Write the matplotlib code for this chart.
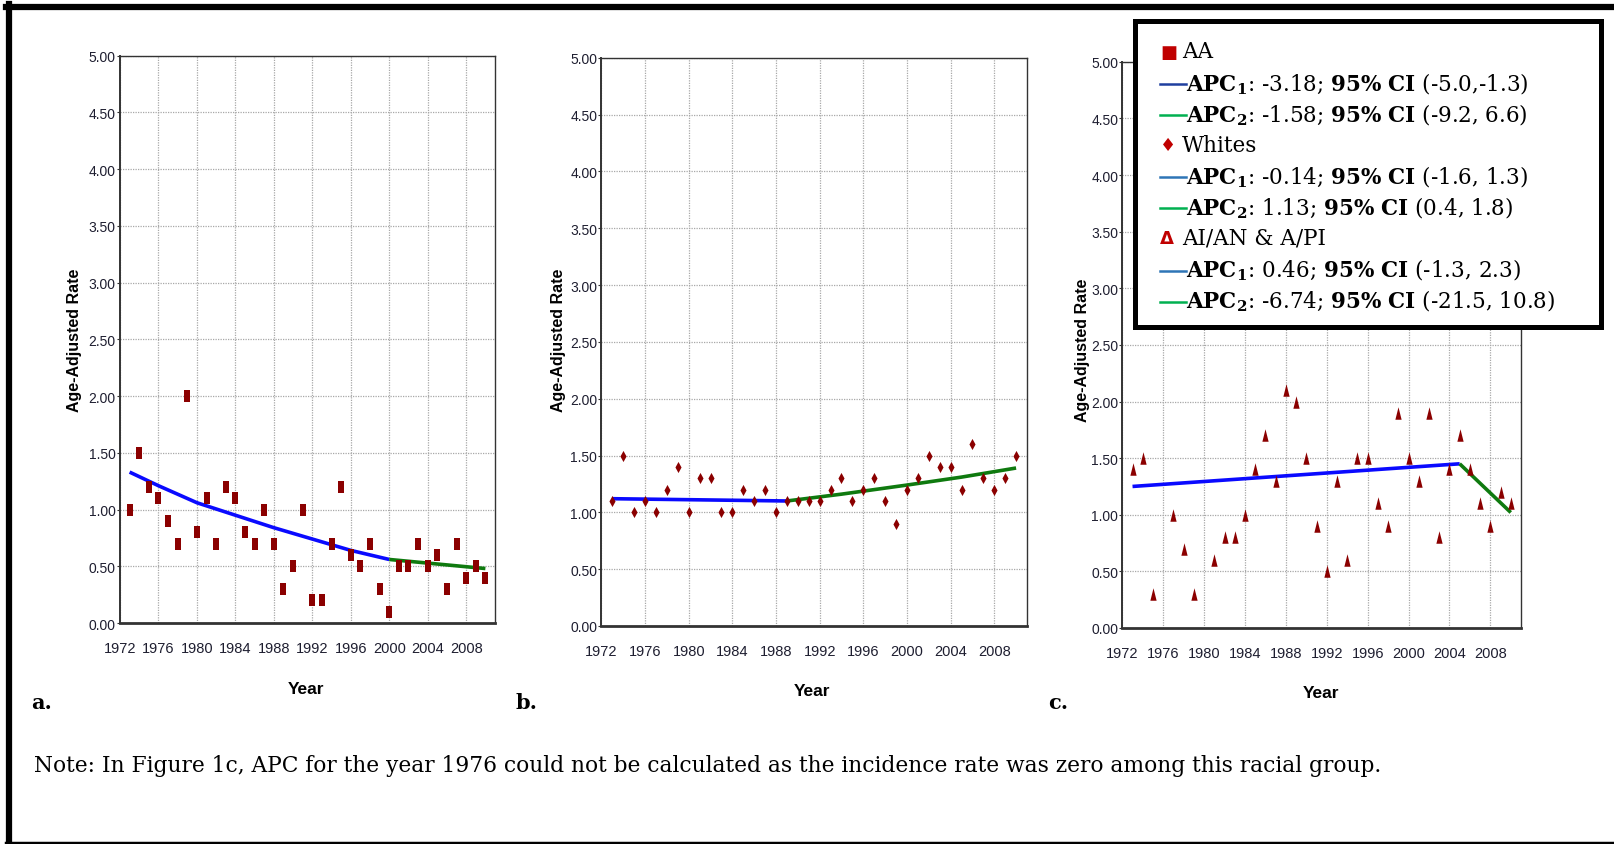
import matplotlib
matplotlib.use("Agg")
import matplotlib.pyplot as plt
from matplotlib.patches import Rectangle
from matplotlib.lines import Line2D

# ---- data ----
years_a = list(range(1973, 2011))
rate_a = [1.00, 1.50, 1.20, 1.10, 0.90, 0.70, 2.00, 0.80, 1.10, 0.70,
          1.20, 1.10, 0.80, 0.70, 1.00, 0.70, 0.30, 0.50, 1.00, 0.20,
          0.20, 0.70, 1.20, 0.60, 0.50, 0.70, 0.30, 0.10, 0.50, 0.50,
          0.70, 0.50, 0.60, 0.30, 0.70, 0.40, 0.50, 0.40]
fit1_a_x = [1973, 1976, 1980, 1984, 1988, 1992, 1996, 2000]
fit1_a_y = [1.33, 1.21, 1.06, 0.95, 0.84, 0.74, 0.64, 0.56]
fit2_a_x = [2000, 2005, 2010]
fit2_a_y = [0.56, 0.52, 0.48]

years_b = list(range(1973, 2011))
rate_b = [1.10, 1.50, 1.00, 1.10, 1.00, 1.20, 1.40, 1.00, 1.30, 1.30,
          1.00, 1.00, 1.20, 1.10, 1.20, 1.00, 1.10, 1.10, 1.10, 1.10,
          1.20, 1.30, 1.10, 1.20, 1.30, 1.10, 0.90, 1.20, 1.30, 1.50,
          1.40, 1.40, 1.20, 1.60, 1.30, 1.20, 1.30, 1.50]
fit1_b_x = [1973, 1989]
fit1_b_y = [1.12, 1.10]
fit2_b_x = [1989, 1994, 2000, 2005, 2010]
fit2_b_y = [1.10, 1.16, 1.24, 1.31, 1.39]

# 1976 and 1980 have no value (rate zero)
years_c = [1973, 1974, 1975, 1977, 1978, 1979, 1981, 1982, 1983, 1984,
           1985, 1986, 1987, 1988, 1989, 1990, 1991, 1992, 1993, 1994,
           1995, 1996, 1997, 1998, 1999, 2000, 2001, 2002, 2003, 2004,
           2005, 2006, 2007, 2008, 2009, 2010]
rate_c = [1.40, 1.50, 0.30, 1.00, 0.70, 0.30, 0.60, 0.80, 0.80, 1.00,
          1.40, 1.70, 1.30, 2.10, 2.00, 1.50, 0.90, 0.50, 1.30, 0.60,
          1.50, 1.50, 1.10, 0.90, 1.90, 1.50, 1.30, 1.90, 0.80, 1.40,
          1.70, 1.40, 1.10, 0.90, 1.20, 1.10]
fit1_c_x = [1973, 2005]
fit1_c_y = [1.25, 1.45]
fit2_c_x = [2005, 2010]
fit2_c_y = [1.45, 1.02]

xticks = list(range(1972, 2012, 4))
yticks = [0, 0.5, 1, 1.5, 2, 2.5, 3, 3.5, 4, 4.5, 5]

legend_lines = [
    ("sym", "\u25A0", "AA"),
    ("apc", "#1f3f9f", r"$\mathbf{APC_1}$: -3.18; $\mathbf{95\%\ CI}$ (-5.0,-1.3)"),
    ("apc", "#00b050", r"$\mathbf{APC_2}$: -1.58; $\mathbf{95\%\ CI}$ (-9.2, 6.6)"),
    ("sym", "\u2666", "Whites"),
    ("apc", "#2e75b6", r"$\mathbf{APC_1}$: -0.14; $\mathbf{95\%\ CI}$ (-1.6, 1.3)"),
    ("apc", "#00b050", r"$\mathbf{APC_2}$: 1.13; $\mathbf{95\%\ CI}$ (0.4, 1.8)"),
    ("sym", "\u0394", "AI/AN & A/PI"),
    ("apc", "#2e75b6", r"$\mathbf{APC_1}$: 0.46; $\mathbf{95\%\ CI}$ (-1.3, 2.3)"),
    ("apc", "#00b050", r"$\mathbf{APC_2}$: -6.74; $\mathbf{95\%\ CI}$ (-21.5, 10.8)"),
]

note = ("Note: In Figure 1c, APC for the year 1976 could not be calculated "
        "as the incidence rate was zero among this racial group.")

# ---- figure ----
W, H = 1614, 845
plt.rcParams["mathtext.fontset"] = "dejavuserif"
fig = plt.figure(figsize=(W / 100, H / 100), dpi=100)


def fx(x):
    return x / W


def fy(y):
    return 1 - y / H


rect_m = [(-0.5, -1), (0.5, -1), (0.5, 1), (-0.5, 1)]
diam_m = [(0, -1), (0.55, 0), (0, 1), (-0.55, 0)]
tri_m = [(-0.5, -1), (0.5, -1), (0, 1)]
red = "#8b0000"
tickfont = "Liberation Sans"

panels = [
    ([120, 56.7, 495, 624], years_a, rate_a, rect_m, 8.5,
     fit1_a_x, fit1_a_y, fit2_a_x, fit2_a_y, 74, 340, 306, 690, "a.", 31),
    ([601.4, 58.7, 1027, 627], years_b, rate_b, diam_m, 8.0,
     fit1_b_x, fit1_b_y, fit2_b_x, fit2_b_y, 558, 340, 812, 692, "b.", 515),
    ([1122.3, 62.8, 1521, 629], years_c, rate_c, tri_m, 9.0,
     fit1_c_x, fit1_c_y, fit2_c_x, fit2_c_y, 1083, 350, 1321, 694, "c.", 1048),
]

for (box, xs, ys, mk, ms, f1x, f1y, f2x, f2y,
     ylx, yly, xlx, xly, letter, letx) in panels:
    l, t, r, b = box
    ax = fig.add_axes([fx(l), fy(b), (r - l) / W, (b - t) / H])
    ax.plot(f1x, f1y, color="#0a0aff", lw=2.6, zorder=3, solid_capstyle="butt")
    ax.plot(f2x, f2y, color="#0f7a0f", lw=2.6, zorder=3, solid_capstyle="butt")
    ax.plot(xs, ys, linestyle="none", marker=mk, markersize=ms,
            color=red, markeredgewidth=0, zorder=4)
    ax.set_xlim(1972, 2011)
    ax.set_ylim(0, 5)
    ax.set_xticks(xticks)
    ax.set_yticks(yticks)
    ax.set_yticklabels(["%.2f" % v for v in yticks])
    ax.grid(True, color="#a8a8a8", linestyle=(0, (1, 1)), lw=0.9)
    ax.tick_params(axis="x", length=0, pad=13, labelsize=10.5, labelcolor="#1e1e30")
    ax.tick_params(axis="y", length=2, pad=1, labelsize=10, labelcolor="#1e1e30",
                   color="#333333")
    for lab in ax.get_xticklabels() + ax.get_yticklabels():
        lab.set_family(tickfont)
    for s in ax.spines.values():
        s.set_color("#333333")
        s.set_linewidth(1.0)
    ax.spines["bottom"].set_linewidth(2.0)
    ax.spines["left"].set_linewidth(1.4)

    fig.text(fx(ylx), fy(yly), "Age-Adjusted Rate", rotation=90,
             ha="center", va="center", fontsize=11.5, fontweight="bold",
             family="Liberation Sans")
    fig.text(fx(xlx), fy(xly), "Year", ha="center", va="center",
             fontsize=12.5, fontweight="bold", family="Liberation Sans")
    fig.text(fx(letx), fy(703), letter, ha="left", va="center",
             fontsize=15, fontweight="bold", family="DejaVu Serif")

# note
fig.text(fx(34), fy(766), note, ha="left", va="center", fontsize=15.7,
         family="DejaVu Serif")

# legend box
fig.add_artist(Rectangle((fx(1135), fy(328)), (1601 - 1135) / W, (328 - 22) / H,
                         transform=fig.transFigure, facecolor="white",
                         edgecolor="black", lw=3.6, zorder=10))
line_y = [52.5, 84.4, 115.3, 146.2, 177, 208, 238.8, 270.7, 301.6]
for (kind, a, txt), yy in zip(legend_lines, line_y):
    if kind == "sym":
        fig.text(fx(1160), fy(yy), a, ha="left", va="center", fontsize=13,
                 color="#c00000", fontweight="bold", family="DejaVu Sans",
                 zorder=11)
        fig.text(fx(1182), fy(yy), txt, ha="left", va="center", fontsize=15.5,
                 family="DejaVu Serif", zorder=11)
    else:
        fig.add_artist(Line2D([fx(1160), fx(1186)], [fy(yy + 1), fy(yy + 1)],
                              color=a, lw=1.8, zorder=11))
        fig.text(fx(1186), fy(yy), txt, ha="left", va="center", fontsize=15.5,
                 family="DejaVu Serif", zorder=11)

# outer frame (top, left, bottom)
fig.add_artist(Line2D([fx(6), 1], [fy(8), fy(8)], color="black", lw=4.5))
fig.add_artist(Line2D([fx(9), fx(9)], [fy(5), 0], color="black", lw=4.5))
fig.add_artist(Line2D([fx(6), 1], [fy(843.5), fy(843.5)], color="black", lw=2.5))

fig.savefig("out.png", dpi=100)
